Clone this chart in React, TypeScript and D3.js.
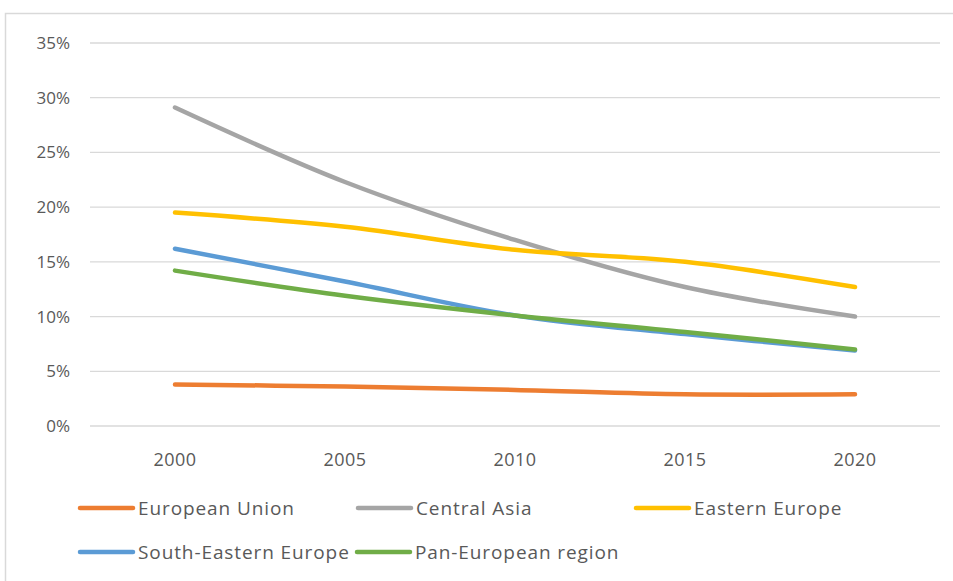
import React from "react";
import * as d3 from "d3";

const years = ["2000", "2005", "2010", "2015", "2020"];
const yTicks = [0, 5, 10, 15, 20, 25, 30, 35];

const seriesNames = [
  "European Union",
  "Central Asia",
  "Eastern Europe",
  "South-Eastern Europe",
  "Pan-European region",
];
const europeanUnion = [3.8, 3.6, 3.3, 2.9, 2.9];
const centralAsia = [29.1, 22.3, 17.0, 12.7, 10.0];
const easternEurope = [19.5, 18.2, 16.1, 15.0, 12.7];
const southEasternEurope = [16.2, 13.2, 10.1, 8.4, 6.9];
const panEuropean = [14.2, 11.9, 10.1, 8.6, 7.0];
const seriesValues = [europeanUnion, centralAsia, easternEurope, southEasternEurope, panEuropean];
const colors = ["#ED7D31", "#A5A5A5", "#FFC000", "#5B9BD5", "#70AD47"];

const W = 953;
const H = 581;
const plot = { left: 90, right: 940, top: 43, bottom: 426 };

export default function App() {
  const x = d3.scaleBand<string>().domain(years).range([plot.left, plot.right]);
  const y = d3.scaleLinear().domain([0, 35]).range([plot.bottom, plot.top]);
  const line = d3
    .line<number>()
    .x((_, i) => (x(years[i]) as number) + x.bandwidth() / 2)
    .y((d) => y(d))
    .curve(d3.curveCatmullRom.alpha(0.5));

  const legendPos = [
    { x: 80, y: 508 },
    { x: 358, y: 508 },
    { x: 636, y: 508 },
    { x: 80, y: 552 },
    { x: 357, y: 552 },
  ];
  const font = "'Open Sans', 'Segoe UI', sans-serif";
  const textColor = "#595959";

  return (
    <svg
      width={W}
      height={H}
      style={{ position: "absolute", left: 0, top: 0, background: "#fff" }}
      fontFamily={font}
    >
      <rect x={5.5} y={13.5} width={W + 10} height={H + 10} fill="#fff" stroke="#d9d9d9" strokeWidth={1.5} />
      {yTicks.map((t) => (
        <g key={t}>
          <line x1={plot.left} x2={plot.right} y1={y(t)} y2={y(t)} stroke="#d9d9d9" strokeWidth={1.3} />
          <text x={70} y={y(t)} dy="0.35em" textAnchor="end" fontSize={17} fill={textColor}>
            {t + "%"}
          </text>
        </g>
      ))}
      {years.map((yr) => (
        <text
          key={yr}
          x={(x(yr) as number) + x.bandwidth() / 2}
          y={460}
          dy="0.35em"
          textAnchor="middle"
          fontSize={18}
          letterSpacing={0.4}
          fill={textColor}
        >
          {yr}
        </text>
      ))}
      {seriesValues.map((vals, i) => (
        <path
          key={seriesNames[i]}
          d={line(vals) as string}
          fill="none"
          stroke={colors[i]}
          strokeWidth={4.5}
          strokeLinecap="round"
          strokeLinejoin="round"
        />
      ))}
      {seriesNames.map((name, i) => (
        <g key={name} transform={`translate(${legendPos[i].x},${legendPos[i].y})`}>
          <line x1={0} x2={53} y1={0} y2={0} stroke={colors[i]} strokeWidth={4.5} strokeLinecap="round" />
          <text x={58} y={0} dy="0.35em" fontSize={19} letterSpacing={0.9} fill={textColor}>
            {name}
          </text>
        </g>
      ))}
    </svg>
  );
}
